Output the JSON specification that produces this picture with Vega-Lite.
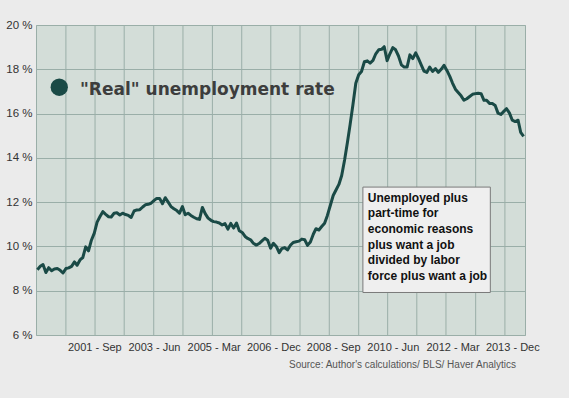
{
  "$schema": "https://vega.github.io/schema/vega-lite/v6.json",
  "width": 489,
  "height": 310,
  "autosize": "none",
  "padding": {"left": 36, "top": 25, "right": 44, "bottom": 63},
  "background": "#ebebeb",
  "config": {
    "view": {"fill": "#d3ddd8", "stroke": "#9aaea8", "strokeWidth": 1}
  },
  "datasets": {
    "series": [
      {"date":"2000-01-01","rate":8.95},{"date":"2000-02-01","rate":9.10},{"date":"2000-03-01","rate":9.18},{"date":"2000-04-01","rate":8.82},{"date":"2000-05-01","rate":9.04},{"date":"2000-06-01","rate":8.90},{"date":"2000-07-01","rate":8.98},{"date":"2000-08-01","rate":9.00},{"date":"2000-09-01","rate":8.92},{"date":"2000-10-01","rate":8.80},{"date":"2000-11-01","rate":9.00},{"date":"2000-12-01","rate":9.03},
      {"date":"2001-01-01","rate":9.10},{"date":"2001-02-01","rate":9.30},{"date":"2001-03-01","rate":9.15},{"date":"2001-04-01","rate":9.39},{"date":"2001-05-01","rate":9.50},{"date":"2001-06-01","rate":9.98},{"date":"2001-07-01","rate":9.80},{"date":"2001-08-01","rate":10.28},{"date":"2001-09-01","rate":10.60},{"date":"2001-10-01","rate":11.10},{"date":"2001-11-01","rate":11.35},{"date":"2001-12-01","rate":11.57},
      {"date":"2002-01-01","rate":11.45},{"date":"2002-02-01","rate":11.34},{"date":"2002-03-01","rate":11.33},{"date":"2002-04-01","rate":11.50},{"date":"2002-05-01","rate":11.52},{"date":"2002-06-01","rate":11.42},{"date":"2002-07-01","rate":11.50},{"date":"2002-08-01","rate":11.44},{"date":"2002-09-01","rate":11.40},{"date":"2002-10-01","rate":11.31},{"date":"2002-11-01","rate":11.60},{"date":"2002-12-01","rate":11.65},
      {"date":"2003-01-01","rate":11.66},{"date":"2003-02-01","rate":11.78},{"date":"2003-03-01","rate":11.88},{"date":"2003-04-01","rate":11.90},{"date":"2003-05-01","rate":11.95},{"date":"2003-06-01","rate":12.07},{"date":"2003-07-01","rate":12.17},{"date":"2003-08-01","rate":12.17},{"date":"2003-09-01","rate":11.93},{"date":"2003-10-01","rate":12.20},{"date":"2003-11-01","rate":12.00},{"date":"2003-12-01","rate":11.80},
      {"date":"2004-01-01","rate":11.70},{"date":"2004-02-01","rate":11.62},{"date":"2004-03-01","rate":11.50},{"date":"2004-04-01","rate":11.80},{"date":"2004-05-01","rate":11.43},{"date":"2004-06-01","rate":11.50},{"date":"2004-07-01","rate":11.40},{"date":"2004-08-01","rate":11.32},{"date":"2004-09-01","rate":11.25},{"date":"2004-10-01","rate":11.22},{"date":"2004-11-01","rate":11.76},{"date":"2004-12-01","rate":11.48},
      {"date":"2005-01-01","rate":11.28},{"date":"2005-02-01","rate":11.18},{"date":"2005-03-01","rate":11.12},{"date":"2005-04-01","rate":11.10},{"date":"2005-05-01","rate":11.06},{"date":"2005-06-01","rate":10.97},{"date":"2005-07-01","rate":11.03},{"date":"2005-08-01","rate":10.78},{"date":"2005-09-01","rate":11.04},{"date":"2005-10-01","rate":10.83},{"date":"2005-11-01","rate":11.06},{"date":"2005-12-01","rate":10.71},
      {"date":"2006-01-01","rate":10.63},{"date":"2006-02-01","rate":10.45},{"date":"2006-03-01","rate":10.36},{"date":"2006-04-01","rate":10.30},{"date":"2006-05-01","rate":10.14},{"date":"2006-06-01","rate":10.06},{"date":"2006-07-01","rate":10.13},{"date":"2006-08-01","rate":10.25},{"date":"2006-09-01","rate":10.37},{"date":"2006-10-01","rate":10.28},{"date":"2006-11-01","rate":9.92},{"date":"2006-12-01","rate":10.14},
      {"date":"2007-01-01","rate":10.00},{"date":"2007-02-01","rate":9.72},{"date":"2007-03-01","rate":9.90},{"date":"2007-04-01","rate":9.95},{"date":"2007-05-01","rate":9.84},{"date":"2007-06-01","rate":10.05},{"date":"2007-07-01","rate":10.18},{"date":"2007-08-01","rate":10.21},{"date":"2007-09-01","rate":10.24},{"date":"2007-10-01","rate":10.33},{"date":"2007-11-01","rate":10.30},{"date":"2007-12-01","rate":10.05},
      {"date":"2008-01-01","rate":10.20},{"date":"2008-02-01","rate":10.55},{"date":"2008-03-01","rate":10.80},{"date":"2008-04-01","rate":10.74},{"date":"2008-05-01","rate":10.90},{"date":"2008-06-01","rate":11.05},{"date":"2008-07-01","rate":11.40},{"date":"2008-08-01","rate":11.85},{"date":"2008-09-01","rate":12.30},{"date":"2008-10-01","rate":12.55},{"date":"2008-11-01","rate":12.80},{"date":"2008-12-01","rate":13.20},
      {"date":"2009-01-01","rate":13.90},{"date":"2009-02-01","rate":14.72},{"date":"2009-03-01","rate":15.50},{"date":"2009-04-01","rate":16.42},{"date":"2009-05-01","rate":17.37},{"date":"2009-06-01","rate":17.75},{"date":"2009-07-01","rate":17.90},{"date":"2009-08-01","rate":18.34},{"date":"2009-09-01","rate":18.38},{"date":"2009-10-01","rate":18.28},{"date":"2009-11-01","rate":18.40},{"date":"2009-12-01","rate":18.70},
      {"date":"2010-01-01","rate":18.88},{"date":"2010-02-01","rate":18.90},{"date":"2010-03-01","rate":19.02},{"date":"2010-04-01","rate":18.39},{"date":"2010-05-01","rate":18.70},{"date":"2010-06-01","rate":18.98},{"date":"2010-07-01","rate":18.88},{"date":"2010-08-01","rate":18.60},{"date":"2010-09-01","rate":18.20},{"date":"2010-10-01","rate":18.10},{"date":"2010-11-01","rate":18.10},{"date":"2010-12-01","rate":18.65},
      {"date":"2011-01-01","rate":18.48},{"date":"2011-02-01","rate":18.74},{"date":"2011-03-01","rate":18.50},{"date":"2011-04-01","rate":18.20},{"date":"2011-05-01","rate":17.92},{"date":"2011-06-01","rate":17.86},{"date":"2011-07-01","rate":18.10},{"date":"2011-08-01","rate":17.90},{"date":"2011-09-01","rate":18.03},{"date":"2011-10-01","rate":17.86},{"date":"2011-11-01","rate":18.00},{"date":"2011-12-01","rate":18.18},
      {"date":"2012-01-01","rate":17.95},{"date":"2012-02-01","rate":17.68},{"date":"2012-03-01","rate":17.38},{"date":"2012-04-01","rate":17.10},{"date":"2012-05-01","rate":16.95},{"date":"2012-06-01","rate":16.80},{"date":"2012-07-01","rate":16.60},{"date":"2012-08-01","rate":16.67},{"date":"2012-09-01","rate":16.77},{"date":"2012-10-01","rate":16.87},{"date":"2012-11-01","rate":16.90},{"date":"2012-12-01","rate":16.92},
      {"date":"2013-01-01","rate":16.90},{"date":"2013-02-01","rate":16.60},{"date":"2013-03-01","rate":16.60},{"date":"2013-04-01","rate":16.46},{"date":"2013-05-01","rate":16.45},{"date":"2013-06-01","rate":16.36},{"date":"2013-07-01","rate":16.02},{"date":"2013-08-01","rate":15.96},{"date":"2013-09-01","rate":16.10},{"date":"2013-10-01","rate":16.22},{"date":"2013-11-01","rate":16.02},{"date":"2013-12-01","rate":15.70},
      {"date":"2014-01-01","rate":15.64},{"date":"2014-02-01","rate":15.70},{"date":"2014-03-01","rate":15.15},{"date":"2014-04-01","rate":14.97}
    ],
    "grid": [
      {"date":"2000-11-01"},{"date":"2001-09-09"},{"date":"2002-07-18"},{"date":"2003-05-30"},{"date":"2004-04-07"},{"date":"2005-02-16"},{"date":"2005-12-27"},{"date":"2006-11-03"},{"date":"2007-09-12"},{"date":"2008-07-21"},{"date":"2009-06-01"},{"date":"2010-04-07"},{"date":"2011-02-13"},{"date":"2011-12-22"},{"date":"2012-11-04"},{"date":"2013-09-13"}
    ]
  },
  "layer": [
    {
      "data": {"name": "grid"},
      "mark": {"type": "rule", "color": "#9aaea8", "strokeWidth": 1},
      "encoding": {
        "x": {
          "field": "date", "type": "temporal", "title": null,
          "scale": {"type": "utc", "domain": [{"year": 1999, "month": 12, "date": 17, "utc": true}, {"year": 2014, "month": 4, "date": 16, "utc": true}]},
          "axis": {
            "title": null,
            "values": [
              {"year": 2001, "month": 9, "date": 1, "utc": true},
              {"year": 2003, "month": 6, "date": 1, "utc": true},
              {"year": 2005, "month": 3, "date": 1, "utc": true},
              {"year": 2006, "month": 12, "date": 1, "utc": true},
              {"year": 2008, "month": 9, "date": 1, "utc": true},
              {"year": 2010, "month": 6, "date": 1, "utc": true},
              {"year": 2012, "month": 3, "date": 1, "utc": true},
              {"year": 2013, "month": 12, "date": 1, "utc": true}
            ],
            "labelExpr": "utcFormat(datum.value, '%Y - %b')",
            "grid": false, "ticks": false, "domain": false,
            "labelFlush": false, "labelOverlap": false,
            "labelPadding": 6, "labelFont": "Liberation Sans", "labelFontSize": 11, "labelColor": "#333333"
          }
        }
      }
    },
    {
      "data": {"name": "series"},
      "mark": {"type": "line", "color": "#1a4a46", "strokeWidth": 3, "strokeJoin": "round"},
      "encoding": {
        "x": {
          "field": "date", "type": "temporal", "title": null,
          "scale": {"type": "utc", "domain": [{"year": 1999, "month": 12, "date": 17, "utc": true}, {"year": 2014, "month": 4, "date": 16, "utc": true}]},
          "axis": {
            "title": null,
            "values": [
              {"year": 2001, "month": 9, "date": 1, "utc": true},
              {"year": 2003, "month": 6, "date": 1, "utc": true},
              {"year": 2005, "month": 3, "date": 1, "utc": true},
              {"year": 2006, "month": 12, "date": 1, "utc": true},
              {"year": 2008, "month": 9, "date": 1, "utc": true},
              {"year": 2010, "month": 6, "date": 1, "utc": true},
              {"year": 2012, "month": 3, "date": 1, "utc": true},
              {"year": 2013, "month": 12, "date": 1, "utc": true}
            ],
            "labelExpr": "utcFormat(datum.value, '%Y - %b')",
            "grid": false, "ticks": false, "domain": false,
            "labelFlush": false, "labelOverlap": false,
            "labelPadding": 6, "labelFont": "Liberation Sans", "labelFontSize": 11, "labelColor": "#333333"
          }
        },
        "y": {
          "field": "rate", "type": "quantitative", "title": null,
          "scale": {"domain": [6, 20], "nice": false, "zero": false},
          "axis": {
            "title": null,
            "values": [6, 8, 10, 12, 14, 16, 18, 20],
            "labelExpr": "datum.value + ' %'",
            "grid": true, "gridColor": "#9aaea8", "gridWidth": 1, "gridOpacity": 1,
            "ticks": false, "domain": false,
            "labelPadding": 4, "labelFont": "Liberation Sans", "labelFontSize": 11.5, "labelColor": "#333333"
          }
        }
      }
    },
    {
      "data": {"values": [{"x1": "2009-07-16", "x2": "2013-04-10", "y1": 12.68, "y2": 7.92}]},
      "mark": {"type": "rect", "fill": "#efefef", "stroke": "#7a7a7a", "strokeWidth": 1},
      "encoding": {
        "x": {"field": "x1", "type": "temporal", "title": null},
        "x2": {"field": "x2"},
        "y": {"field": "y1", "type": "quantitative", "title": null},
        "y2": {"field": "y2"}
      }
    },
    {
      "data": {"values": [{"d": "2009-09-07", "v": 12.02, "label": ["Unemployed plus", "part-time for", "economic reasons", "plus want a job", "divided by labor", "force plus want a job"]}]},
      "mark": {"type": "text", "align": "left", "baseline": "alphabetic", "font": "Liberation Sans", "fontWeight": "bold", "fontSize": 12, "lineHeight": 15.7, "color": "#111111"},
      "encoding": {
        "x": {"field": "d", "type": "temporal", "title": null},
        "y": {"field": "v", "type": "quantitative", "title": null},
        "text": {"field": "label"}
      }
    },
    {
      "data": {"values": [{"d": "2000-08-22", "v": 17.19}]},
      "mark": {"type": "point", "shape": "circle", "filled": true, "size": 300, "color": "#1a4a46", "opacity": 1},
      "encoding": {
        "x": {"field": "d", "type": "temporal", "title": null},
        "y": {"field": "v", "type": "quantitative", "title": null}
      }
    },
    {
      "data": {"values": [{"d": "2001-04-01", "v": 16.84, "label": "\"Real\" unemployment rate"}]},
      "mark": {"type": "text", "align": "left", "baseline": "alphabetic", "font": "DejaVu Sans", "fontWeight": "bold", "fontSize": 17, "color": "#3d3d3d"},
      "encoding": {
        "x": {"field": "d", "type": "temporal", "title": null},
        "y": {"field": "v", "type": "quantitative", "title": null},
        "text": {"field": "label"}
      }
    },
    {
      "data": {"values": [{"d": "2014-01-10", "v": 4.51, "label": "Source: Author's calculations/ BLS/ Haver Analytics"}]},
      "mark": {"type": "text", "align": "right", "baseline": "alphabetic", "font": "Liberation Sans", "fontSize": 10, "color": "#555555"},
      "encoding": {
        "x": {"field": "d", "type": "temporal", "title": null},
        "y": {"field": "v", "type": "quantitative", "title": null},
        "text": {"field": "label"}
      }
    }
  ]
}
